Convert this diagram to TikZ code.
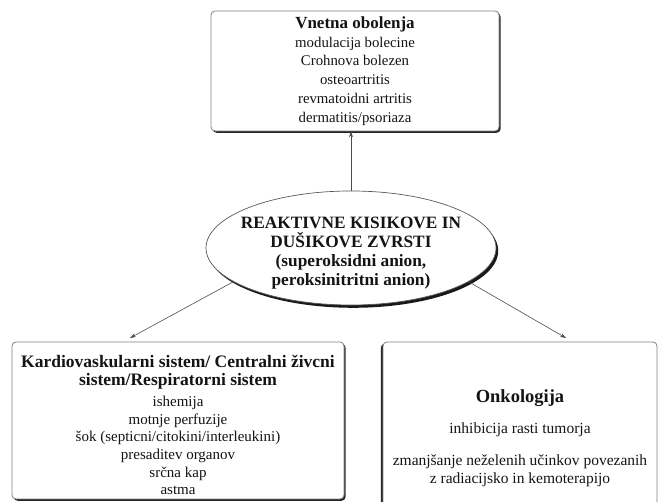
\documentclass[tikz,border=0pt]{standalone}
\usepackage{fontspec}
\setmainfont{Liberation Serif}
\usetikzlibrary{shapes.geometric,arrows.meta,shadows}
\newcommand{\cardtitle}[1]{{\bfseries\fontsize{17.5}{22}\selectfont #1}}
\begin{document}
\begin{tikzpicture}[x=1pt,y=1pt,
  boxstyle/.style={draw=black!50, line width=0.8pt, rounded corners=4pt, fill=white, inner sep=0pt},
  shadowR/.style={drop shadow={shadow xshift=1.6pt, shadow yshift=-1.8pt, fill=black!85, opacity=1}},
  shadowL/.style={drop shadow={shadow xshift=-2.2pt, shadow yshift=-1.8pt, fill=black!85, opacity=1}},
  ellstyle/.style={ellipse, draw=black!65, line width=0.7pt, fill=white, inner sep=0pt,
    drop shadow={shadow xshift=2.2pt, shadow yshift=-2.8pt, fill=black!90, opacity=1}},
  conn/.style={draw=black!70, line width=0.6pt, -{Stealth[length=6pt,width=4pt]}},
  txt/.style={align=center, inner sep=0pt, text=black!92}
]
\useasboundingbox (0,0) rectangle (658,502);
% boxes
\node[boxstyle, shadowR, minimum width=288pt, minimum height=120pt] (top) at (355,431) {};
\node[boxstyle, shadowR, minimum width=332pt, minimum height=157pt] (card) at (178,81.5) {};
\node[boxstyle, shadowL, minimum width=274pt, minimum height=170pt] (onko) at (520,75) {};
\node[ellstyle, minimum width=290pt, minimum height=114pt] (ell) at (351,254) {};
% texts
\node[txt, font=\fontsize{14.8}{18.7}\selectfont] (toptext) at (top.center)
  {{\bfseries\fontsize{17}{19}\selectfont Vnetna obolenja}\\
   modulacija bolecine\\ Crohnova bolezen\\ osteoartritis\\ revmatoidni artritis\\ dermatitis/psoriaza};
\node[txt, font=\bfseries\fontsize{17.3}{19.2}\selectfont] (elltext) at (351,249)
  {REAKTIVNE KISIKOVE IN\\ DUŠIKOVE ZVRSTI\\ (superoksidni anion,\\ peroksinitritni anion)};
\node[txt, font=\fontsize{15}{17.6}\selectfont] (cardtext) at (178,77)
  {\cardtitle{Kardiovaskularni sistem/ Centralni živcni}\\ \cardtitle{sistem/Respiratorni sistem}\\[4pt]
   ishemija\\ motnje perfuzije\\ šok (septicni/citokini/interleukini)\\ presaditev organov\\ srčna kap\\ astma};
\node[txt, font=\fontsize{15.5}{18}\selectfont] (onkotext) at (520,63.5)
  {{\bfseries\fontsize{18.5}{20}\selectfont Onkologija}\\[13pt]
   inhibicija rasti tumorja\\[14pt]
   zmanjšanje neželenih učinkov povezanih\\ z radiacijsko in kemoterapijo};
% connectors
\coordinate (la) at (130,164);
\coordinate (ra) at (566,164);
\draw[conn] (ell.north) -- (ell.north |- top.south);
\draw[conn] (ell.196) -- (la);
\draw[conn] (ell.-16) -- (ra);
\end{tikzpicture}
\end{document}
